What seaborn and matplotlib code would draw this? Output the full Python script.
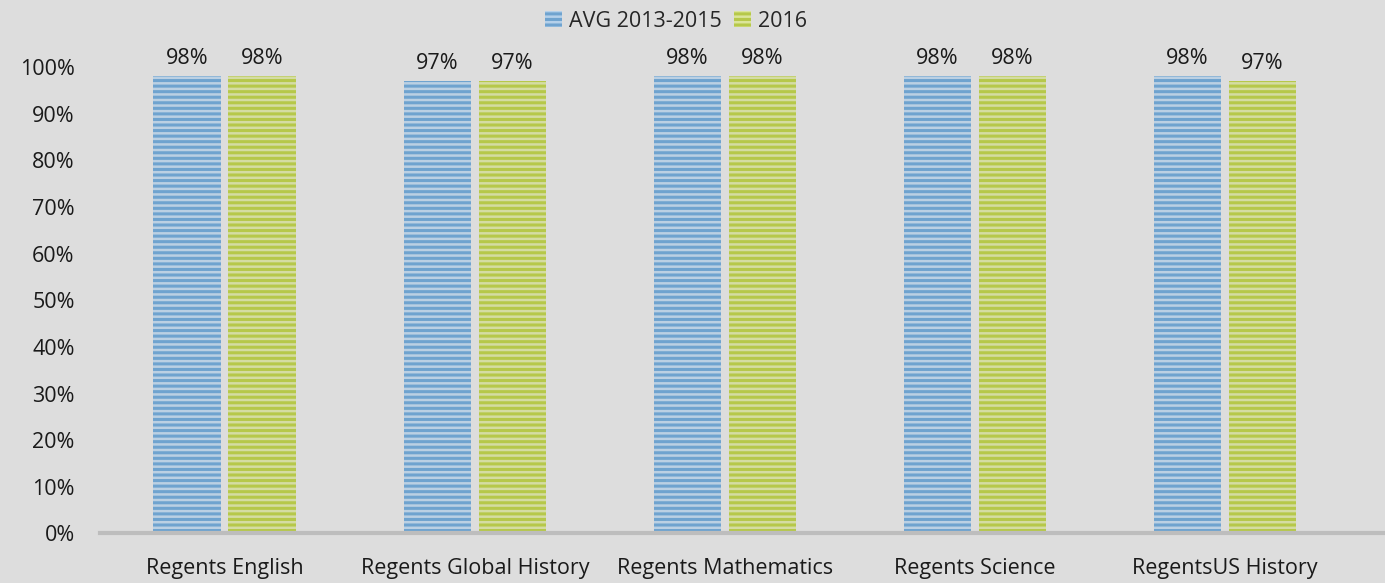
import pandas as pd
import matplotlib.pyplot as plt
import seaborn as sns
from matplotlib.patches import Patch

subjects = ["Regents English", "Regents Global History", "Regents Mathematics",
            "Regents Science", "RegentsUS History"]
avg_2013_2015 = [98, 97, 98, 98, 98]
y2016 = [98, 97, 98, 98, 97]
series = ["AVG 2013-2015", "2016"]

df = pd.DataFrame({
    "subject": subjects * 2,
    "value": avg_2013_2015 + y2016,
    "series": [series[0]] * 5 + [series[1]] * 5,
})

face = {"AVG 2013-2015": "#b4d0ea", "2016": "#dbe59a"}
hatchc = {"AVG 2013-2015": "#6fa3cf", "2016": "#b6c84a"}

sns.set_theme(style="white")
plt.rcParams["font.family"] = ["Open Sans", "DejaVu Sans"]
plt.rcParams["hatch.linewidth"] = 2.2

fig, ax = plt.subplots(figsize=(13.85, 5.83), dpi=100)
fig.patch.set_facecolor("#dddddd")
ax.set_facecolor("#dddddd")

sns.barplot(data=df, x="subject", y="value", hue="series", palette=face,
            width=0.6, gap=0.1, ax=ax, hatch="---", linewidth=0, legend=False)

for cont, s in zip(ax.containers, series):
    for bar in cont:
        bar.set_edgecolor(hatchc[s])
        bar.set_linewidth(0)
    ax.bar_label(cont, labels=[f"{v:.0f}%" for v in cont.datavalues],
                 padding=5, fontsize=15.5, color="#1a1a1a")

ax.set_ylim(0, 100)
ax.set_xlim(-0.5, 4.64)
ax.set_yticks(range(0, 101, 10))
ax.set_yticklabels([f"{t}%" for t in range(0, 101, 10)], fontsize=15.5, color="#1a1a1a")
ax.tick_params(axis="y", pad=12)
ax.tick_params(axis="x", labelsize=15.5, colors="#1a1a1a", pad=12)
ax.set_xlabel("")
ax.set_ylabel("")
for sp in ["top", "right", "left"]:
    ax.spines[sp].set_visible(False)
ax.spines["bottom"].set_color("#bdbdbd")
ax.spines["bottom"].set_linewidth(3)

handles = [Patch(facecolor=face[s], edgecolor=hatchc[s], hatch="---", linewidth=0, label=s)
           for s in series]
fig.legend(handles=handles, loc="upper center", bbox_to_anchor=(0.488, 1.015), ncol=2,
           frameon=False, fontsize=15.5, handlelength=0.8, handleheight=0.8,
           handletextpad=0.3, columnspacing=0.6)

fig.subplots_adjust(left=0.072, right=1.0, top=0.885, bottom=0.085)
fig.savefig("out.png", dpi=100, facecolor=fig.get_facecolor())
